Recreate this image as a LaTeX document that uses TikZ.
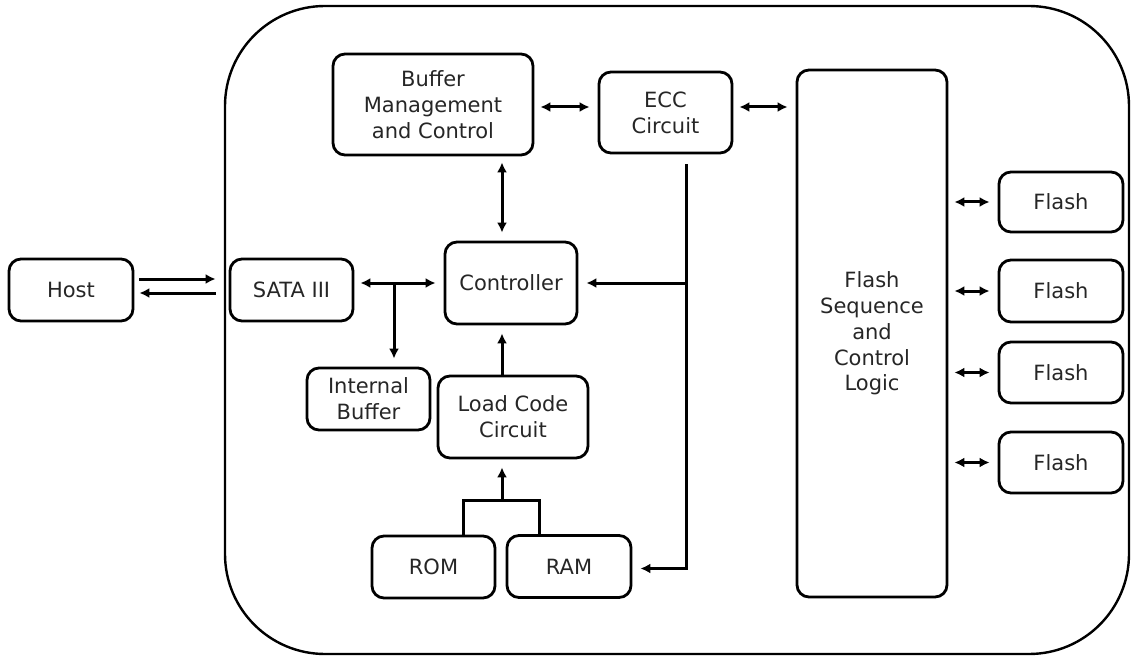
\documentclass[tikz,border=0pt]{standalone}
\usepackage{fontspec}
\setmainfont{DejaVu Sans}
\usetikzlibrary{arrows.meta}
\tikzset{
    blk/.style={draw, line width=1.4pt, rounded corners=6pt, align=center,
        inner sep=0pt, text=black!85, font=\fontsize{10.5}{12.9}\selectfont},
    wire/.style={line width=1.5pt},
    arr/.style={wire, -{Latex[length=5pt,width=5pt]}, shorten >=4pt},
    dlink/.style={wire, {Latex[length=5pt,width=5pt]}-{Latex[length=5pt,width=5pt]}, shorten >=4pt, shorten <=3pt}
}

\begin{document}
\begin{tikzpicture}[x=0.5pt,y=-0.5pt]
		\useasboundingbox (0,0) rectangle (1131,658);
		% drive
		\draw[line width=1.2pt, rounded corners=50pt] (225,6) rectangle (1129,654);

		% host side
		\node[blk, minimum width=62pt, minimum height=31pt] (host) at (71,290) {Host};
		\node[blk, minimum width=61.5pt, minimum height=31pt] (sata) at (291.5,290) {SATA III};

		% controller part
		\node[blk, minimum width=100pt, minimum height=50.5pt] (bufmgmt) at (433,104.5) {Buffer\\Management\\and Control};
		\node[blk, minimum width=66.5pt, minimum height=40.5pt] (ecc) at (665.5,112.5) {ECC\\Circuit};
		\node[blk, minimum width=66pt, minimum height=41pt] (ctrl) at (511,283) {Controller};
		\node[blk, minimum width=61.5pt, minimum height=31pt] (ibuf) at (368.5,399) {Internal\\Buffer};
		\node[blk, minimum width=75pt, minimum height=41pt] (lcc) at (513,417) {Load Code\\Circuit};
		\node[blk, minimum width=61.5pt, minimum height=31pt] (rom) at (433.5,567) {ROM};
		\node[blk, minimum width=62pt, minimum height=31pt] (ram) at (569,566.5) {RAM};

		% flash part
		\node[blk, minimum width=75pt, minimum height=263.5pt] (fseq) at (872,333.5) {Flash\\Sequence\\and\\Control\\Logic};
		\node[blk, minimum width=62pt, minimum height=30pt] (flash1) at (1061,202) {Flash};
		\node[blk, minimum width=62pt, minimum height=31pt] (flash2) at (1061,291) {Flash};
		\node[blk, minimum width=62pt, minimum height=30.5pt] (flash3) at (1061,372.5) {Flash};
		\node[blk, minimum width=62pt, minimum height=30.5pt] (flash4) at (1061,462.5) {Flash};

		\coordinate (busx) at (502,0);
		\coordinate (eccbus) at (686,0);
		\coordinate (sbr) at (394,283);
		\coordinate (rr) at (502,500);

		\draw[arr, shorten <=2.5pt, shorten >=6.5pt] ([yshift=5.5pt]host.east) -- ([yshift=5.5pt]sata.west);
		\draw[arr, shorten <=6.5pt, shorten >=2.5pt] ([yshift=-1.5pt]sata.west) -- ([yshift=-1.5pt]host.east);
		\draw[dlink] (sata.east |- ctrl) -- (ctrl.west);
		\draw[arr] (sbr) -- (sbr |- ibuf.north);
		\draw[dlink] (bufmgmt.east |- 0,107) -- (ecc.west |- 0,107);
		\draw[dlink] (ecc.east |- 0,107) -- (fseq.west |- 0,107);
		\draw[dlink] (bufmgmt.south -| busx) -- (ctrl.north -| busx);
		\draw[arr] (lcc.north -| busx) -- (ctrl.south -| busx);
		\draw[wire] ([xshift=14.75pt]rom.north) |- (rr) -| ([xshift=-15pt]ram.north);
		\draw[arr] (rr) -- (lcc.south -| rr);
		\draw[arr, shorten <=5pt] (ecc.south -| eccbus) |- ([yshift=-1pt]ram.east);
		\draw[arr] (ctrl.east -| eccbus) -- (ctrl.east);

		\foreach \i in {1,...,4}
			\draw[dlink] (fseq.east |- flash\i) -- (flash\i.west);
\end{tikzpicture}
\end{document}
